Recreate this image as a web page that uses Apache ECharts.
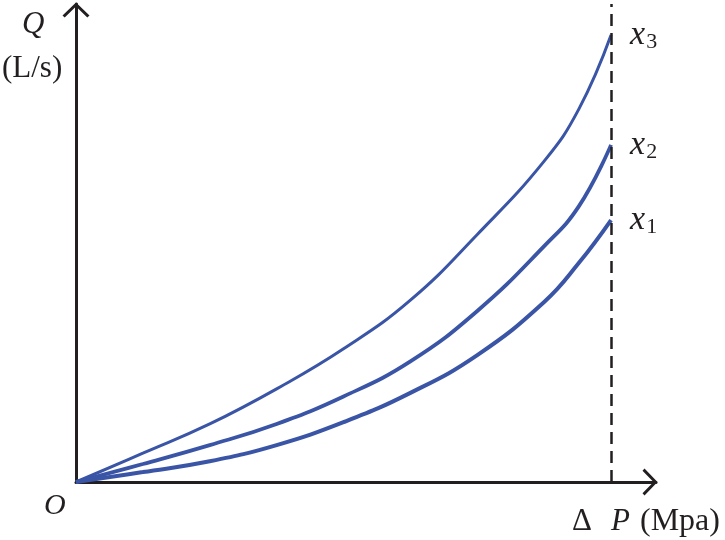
<!DOCTYPE html>
<html>
<head>
<meta charset="utf-8">
<title>Q - ΔP</title>
<script src="https://cdn.jsdelivr.net/npm/echarts@6/dist/echarts.min.js"></script>
<style>
  html, body { margin: 0; padding: 0; background: #ffffff; }
  #chart { width: 725px; height: 540px; }
</style>
</head>
<body>
<div id="chart"></div>
<script>
// pressure difference (ΔP), the dashed line sits at 10
const pressure = [0, 1.25, 2.5, 3.75, 5, 6.25, 7.5, 8.75, 9.4, 10];
// flow Q for the three openings
const flowX3 = [0, 0.64, 1.29, 2.07, 2.96, 4.04, 5.50, 7.13, 8.29, 9.93];
const flowX2 = [0, 0.40, 0.82, 1.29, 1.90, 2.68, 3.80, 5.24, 6.13, 7.49];
const flowX1 = [0, 0.22, 0.46, 0.82, 1.33, 1.98, 2.82, 4.0, 4.87, 5.82];
const seriesNames = ["3", "2", "1"];
const pressureLimit = 10;

const ink = "#231f20";
const blue = "#3a55a6";
const serif = "'Liberation Serif'";
// open chevron arrow head (points up in its own frame)
const chevron = "path://M0,13 L13.5,0 L27,13 L24.8,15 L13.5,4 L2.2,15 Z";

const chart = echarts.init(document.getElementById("chart"));

function pairs(ys) {
  return pressure.map(function (p, i) {
    return [p, ys[i]];
  });
}

function curve(sub, ys, width, extra) {
  return Object.assign({
    name: "x" + sub,
    type: "line",
    smooth: 0.45,
    showSymbol: false,
    silent: true,
    lineStyle: { color: blue, width: width },
    endLabel: {
      show: true,
      distance: 19,
      formatter: "{x|x}{s|" + sub + "}",
      rich: {
        x: { fontFamily: "Liberation Serif", fontStyle: "italic", fontSize: 34, color: ink },
        s: { fontFamily: "Liberation Serif", fontSize: 22, color: ink, padding: [14, 0, 0, 1] }
      }
    },
    data: pairs(ys)
  }, extra || {});
}

const axisLine = {
  show: true,
  symbol: ["none", chevron],
  symbolSize: [27, 15],
  symbolOffset: [0, -6],
  lineStyle: { color: ink, width: 3 }
};

function label(text, left, top, font) {
  return { type: "text", left: left, top: top, style: { text: text, font: font, fill: ink } };
}

chart.setOption({
  animation: false,
  backgroundColor: "#ffffff",
  grid: { left: 76, right: 69, top: 4, bottom: 58 },
  xAxis: {
    type: "value",
    min: 0,
    max: 10.84,
    axisLine: axisLine,
    axisTick: { show: false },
    axisLabel: { show: false },
    splitLine: { show: false }
  },
  yAxis: {
    type: "value",
    min: 0,
    max: 10.62,
    axisLine: axisLine,
    axisTick: { show: false },
    axisLabel: { show: false },
    splitLine: { show: false }
  },
  graphic: [
    label("Q", 22, 9, "italic 31px " + serif),
    label("(L/s)", 2, 53, "31px " + serif),
    label("O", 44, 491, "italic 30px " + serif),
    label("Δ", 572, 506, "31px " + serif),
    label("P", 611, 506, "italic 31px " + serif),
    label("(Mpa)", 640, 506, "32px " + serif)
  ],
  series: [
    curve(seriesNames[0], flowX3, 3),
    curve(seriesNames[1], flowX2, 3.8),
    curve(seriesNames[2], flowX1, 4, {
      markLine: {
        silent: true,
        symbol: ["none", "none"],
        label: { show: false },
        lineStyle: { color: ink, width: 2.5, type: [12, 7] },
        data: [{ xAxis: pressureLimit }]
      }
    })
  ]
});
</script>
</body>
</html>
